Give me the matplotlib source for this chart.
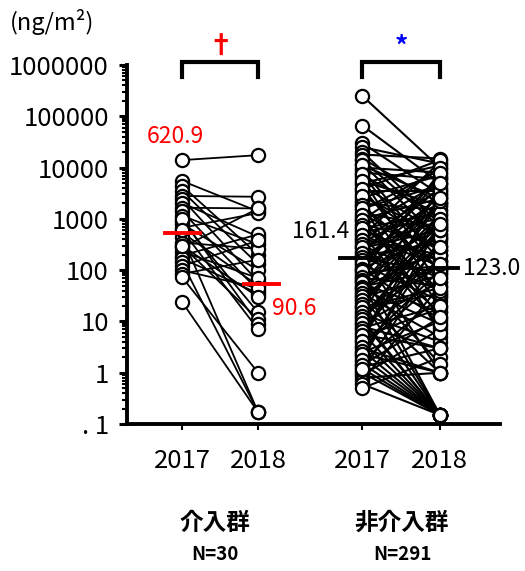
import numpy as np
import matplotlib
matplotlib.use("Agg")
import matplotlib.pyplot as plt
from matplotlib.ticker import FixedLocator, FixedFormatter, LogLocator, NullFormatter
import matplotlib.transforms as mtransforms

plt.rcParams['font.family'] = ['Noto Sans CJK JP', 'DejaVu Sans']

# datos
years = ['2017', '2018', '2017', '2018']
grupos = ['介入群', '非介入群']
n_labels = ['N=30', 'N=291']

g1_2017 = [14000, 5500, 4400, 3500, 2800, 2450, 2050, 1650, 1400, 1150,
           910, 800, 670, 540, 450, 345, 300, 275, 230, 193,
           170, 142, 120, 99, 85, 73, 300, 1000, 600, 24]
g1_2018 = [17500, 1400, 200, 130, 2700, 60, 450, 1600, 40, 320,
           15, 100, 1300, 50, 0.17, 260, 11, 1600, 70, 500,
           35, 0.17, 380, 45, 160, 1.0, 30, 9, 7, 0.17]

g2_2017 = [250000, 66000, 30000, 25000, 20000, 18000, 15000, 12000, 10000, 9000,
           8000, 7000, 6000, 5000, 4500, 4000, 3500, 3000, 2600, 2200,
           2000, 1800, 1500, 1300, 1100, 1000, 900, 800, 700, 600,
           550, 500, 450, 400, 350, 300, 270, 240, 210, 190,
           170, 150, 130, 120, 110, 100, 90, 80, 70, 62,
           55, 50, 45, 40, 35, 30, 27, 24, 20, 18,
           16, 14, 12, 10, 9, 8, 7, 6, 5, 4.5,
           4, 3.5, 3, 2.5, 2.2, 2, 1.7, 1.5, 1.3, 1.1,
           1, 0.9, 0.8, 0.7, 0.6, 0.5,
           14000, 11000, 7500, 5500, 3800, 2800, 1900, 1600, 1200, 950,
           750, 650, 480, 380, 320, 280, 220, 180, 160, 135,
           105, 95, 75, 65, 58, 48, 42, 36, 32, 26,
           22, 19, 15, 13, 11, 9.5, 7.5, 6.5, 5.5, 4.2,
           3.2, 2.7, 2.3, 1.8, 1.4, 1.2]
g2_2018 = [10000, 5000, 3000, 12000, 800, 15000, 2000, 400, 8000, 150,
           6000, 1200, 30, 11000, 500, 60, 3500, 250, 7000, 20,
           1500, 100, 9000, 700, 12, 2500, 40, 300, 5000, 150,
           1000, 8, 13000, 200, 2000, 70, 600, 4000, 1.0, 350,
           90, 1800, 25, 6000, 450, 0.15, 120, 3000, 50, 900,
           15, 0.15, 250, 1200, 5, 80, 500, 0.15, 2000, 35,
           150, 4, 700, 0.15, 60, 3, 300, 0.15, 18, 1500,
           0.15, 100, 1.0, 10, 400, 0.15, 30, 0.15, 3, 200,
           0.15, 7, 1.0, 50, 0.15, 2,
           700, 2500, 90, 1800, 14000, 450, 6, 4500, 250, 10000,
           35, 1300, 120, 3800, 15, 900, 6500, 40, 2800, 600,
           11, 8000, 200, 1.5, 2200, 100, 9, 3500, 280, 1.0,
           800, 45, 2500, 130, 0.15, 1000, 20, 600, 3, 5000,
           70, 0.15, 1.0, 800, 12, 0.15]

# lineas centrales (posicion en la figura) y sus etiquetas
g1_center = [530, 54]
g2_center = [175, 110]
g1_center_text = ['620.9', '90.6']
g2_center_text = ['161.4', '123.0']

xpos = [0, 1, 2.37, 3.39]

fig = plt.figure(figsize=(5.25, 5.71), dpi=100)
ax = fig.add_axes([0.2419, 0.2574, 0.7105, 0.6287])
ax.set_yscale('log')
ax.set_ylim(0.1, 1e6)
ax.set_xlim(-0.724, 4.18)

ms = 9.5
for (xa, xb), ya, yb, lw in [((xpos[0], xpos[1]), g1_2017, g1_2018, 1.3),
                             ((xpos[2], xpos[3]), g2_2017, g2_2018, 1.5)]:
    for a, b in zip(ya, yb):
        ax.plot([xa, xb], [a, b], color='black', lw=lw, zorder=2, clip_on=False)
    ax.plot([xa] * len(ya), ya, 'o', ms=ms, mfc='white', mec='black', mew=1.6,
            zorder=3, clip_on=False, ls='none')
    ax.plot([xb] * len(yb), yb, 'o', ms=ms, mfc='white', mec='black', mew=1.6,
            zorder=3, clip_on=False, ls='none')

# lineas de media
ax.plot([xpos[0] - 0.22, xpos[0] + 0.24], [g1_center[0]] * 2, color='red', lw=2.8, zorder=5)
ax.plot([xpos[1] - 0.18, xpos[1] + 0.27], [g1_center[1]] * 2, color='red', lw=2.8, zorder=5)
ax.plot([xpos[2] - 0.29, xpos[2] + 0.22], [g2_center[0]] * 2, color='black', lw=2.8, zorder=5)
ax.plot([xpos[3] - 0.16, xpos[3] + 0.24], [g2_center[1]] * 2, color='black', lw=2.8, zorder=5)

fs = 18.5
ax.text(-0.09, 4.1e4, g1_center_text[0], color='red', fontsize=16.5, ha='center', va='center')
ax.text(1.47, 17.5, g1_center_text[1], color='red', fontsize=16.5, ha='center', va='center')
ax.text(1.82, 556, g2_center_text[0], color='black', fontsize=16.5, ha='center', va='center')
ax.text(3.69, 110, g2_center_text[1], color='black', fontsize=16.5, ha='left', va='center')

# corchetes de significancia
trans = mtransforms.blended_transform_factory(ax.transData, ax.transAxes)
for (xa, xb), mark, col in [((xpos[0], xpos[1]), '†', 'red'), ((xpos[2], xpos[3]), '*', 'blue')]:
    ax.plot([xa, xa, xb, xb], [0.967, 1.008, 1.008, 0.967], color='black', lw=3,
            transform=trans, clip_on=False, solid_joinstyle='miter')
    ax.text((xa + xb) / 2, 1.05, mark, color=col, fontsize=19, fontweight='bold',
            ha='center', va='center', transform=trans)

# ejes
for s in ['top', 'right']:
    ax.spines[s].set_visible(False)
ax.spines['left'].set_linewidth(2.8)
ax.spines['bottom'].set_linewidth(2.8)

yt = [0.1, 1, 10, 100, 1000, 10000, 100000, 1000000]
ytl = ['. 1', '1', '10', '100', '1000', '10000', '100000', '1000000']
ax.yaxis.set_major_locator(FixedLocator(yt))
ax.yaxis.set_major_formatter(FixedFormatter(ytl))
ax.yaxis.set_minor_locator(LogLocator(base=10, subs=np.arange(2, 10), numticks=20))
ax.yaxis.set_minor_formatter(NullFormatter())
ax.tick_params(axis='y', which='major', length=6, width=2.2, labelsize=fs, pad=7)
ax.tick_params(axis='y', which='minor', length=3.5, width=1.5)

ax.set_xticks(xpos)
ax.set_xticklabels(years)
ax.tick_params(axis='x', which='major', length=4, width=1.5, labelsize=fs, pad=13)

fig.text(10 / 525, 1 - 22 / 571, '(ng/m²)', fontsize=17, ha='left', va='center')

for xc, g, n in zip([215, 402], grupos, n_labels):
    fig.text(xc / 525, 1 - 523 / 571, g, fontsize=17, fontweight='bold', ha='center', va='center')
    fig.text(xc / 525, 1 - 555 / 571, n, fontsize=13.5, fontweight='bold', ha='center', va='center')

fig.savefig('out.png', dpi=100)
